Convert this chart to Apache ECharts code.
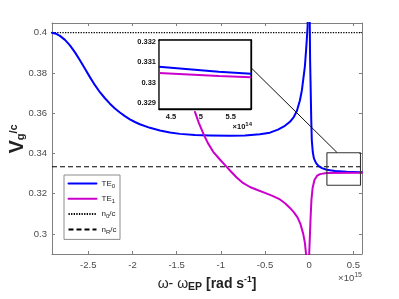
<!DOCTYPE html>
<html><head><meta charset="utf-8">
<script src="https://cdn.jsdelivr.net/npm/echarts@6/dist/echarts.min.js"></script>
<style>html,body{margin:0;padding:0;background:#fff}#c{width:399px;height:299px}</style>
</head><body><div id="c"></div>
<script>
// ---- data (x in units of 1e15 rad/s for the main plot, 1e14 for the inset) ----
const te0Left = [[-2.911,0.4000],[-2.866,0.3995],[-2.820,0.3984],[-2.763,0.3964],[-2.707,0.3937],[-2.650,0.3902],
  [-2.594,0.3863],[-2.537,0.3821],[-2.481,0.3779],[-2.424,0.3739],[-2.368,0.3704],[-2.311,0.3674],[-2.255,0.3647],
  [-2.198,0.3623],[-2.142,0.3603],[-2.085,0.3585],[-2.029,0.3569],[-1.972,0.3556],[-1.916,0.3545],[-1.802,0.3527],
  [-1.689,0.3514],[-1.576,0.3504],[-1.463,0.3497],[-1.293,0.3491],[-1.123,0.3489],[-0.897,0.3488],[-0.727,0.3489],
  [-0.558,0.3495],[-0.445,0.3503],[-0.354,0.3518],[-0.275,0.3537],[-0.218,0.3557],[-0.173,0.3582],[-0.139,0.3612],
  [-0.105,0.3664],[-0.083,0.3714],[-0.066,0.3773],[-0.049,0.3833],[-0.035,0.3917],[-0.026,0.3977],[-0.018,0.4031],
  [-0.012,0.43]];
const te0Right = [[0.0,0.43],[0.010,0.3863],[0.016,0.3729],[0.023,0.3566],[0.029,0.3466],[0.040,0.3407],[0.053,0.3375],
  [0.076,0.3353],[0.104,0.3338],[0.144,0.3327],[0.197,0.3319],[0.291,0.3313],[0.423,0.3309],[0.573,0.3306],[0.597,0.3306]];
const te1Left = [[-1.293,0.3606],[-1.248,0.3550],[-1.199,0.3499],[-1.146,0.3451],[-1.086,0.3408],[-1.016,0.3372],
  [-0.942,0.3337],[-0.886,0.3310],[-0.821,0.3280],[-0.750,0.3253],[-0.671,0.3233],[-0.586,0.3218],[-0.501,0.3204],
  [-0.416,0.3189],[-0.331,0.3171],[-0.274,0.3152],[-0.218,0.3129],[-0.173,0.3107],[-0.133,0.3082],[-0.100,0.3050],
  [-0.068,0.3000],[-0.049,0.2955],[-0.037,0.2904],[-0.030,0.27]];
const te1Right = [[-0.004,0.27],[0.0,0.2904],[0.008,0.2995],[0.016,0.3086],[0.025,0.3169],[0.038,0.3228],[0.059,0.3268],
  [0.087,0.3288],[0.121,0.3297],[0.197,0.3303],[0.573,0.3304],[0.597,0.3304]];
const n0c = 0.4;
const nRc = 1/3;
const insetTe0 = [[4.3,0.33077],[4.8,0.33065],[5.3,0.33053],[5.84,0.33043]];
const insetTe1 = [[4.3,0.33046],[4.8,0.33039],[5.3,0.33032],[5.84,0.33025]];
const xTicks = [-2.5,-2,-1.5,-1,-0.5,0,0.5];
const yTicks = [0.3,0.32,0.34,0.36,0.38,0.4];
const insetXTicks = [4.5,5,5.5];
const insetYTicks = [0.329,0.33,0.331,0.332];
const zoomBox = [[0.2,0.3242],[0.58,0.3242],[0.58,0.3403],[0.2,0.3403],[0.2,0.3242]];
const connector = [[-0.652,0.3823],[0.313,0.3405]];
const xRange = [-2.91, 0.597];
const yRange = [0.29, 0.4048];
const insetXRange = [4.3, 5.84];
const insetYRange = [0.3287, 0.33208];

const FF = '"Liberation Sans", Arial, Helvetica, sans-serif';
const AX = '#7f7f7f';
const LBL = '#4a4a4a';
const BLUE = '#0000ff';
const MAG = '#cc00cc';
const fmt = v => String(+(+v).toFixed(4));

function mainX(pos, show) {
  return {type:'value', gridIndex:0, position:pos, min:xRange[0], max:xRange[1],
    axisLine:{show:true, onZero:false, lineStyle:{color:AX, width:1}},
    axisTick:{show:true, inside:true, length:3, customValues:xTicks, lineStyle:{color:AX}},
    axisLabel:{show:show, customValues:xTicks, color:LBL, fontSize:9.5, fontFamily:FF, margin:6, formatter:fmt},
    splitLine:{show:false}};
}
function mainY(pos, show) {
  return {type:'value', gridIndex:0, position:pos, min:yRange[0], max:yRange[1],
    axisLine:{show:true, onZero:false, lineStyle:{color:AX, width:1}},
    axisTick:{show:true, inside:true, length:3, customValues:yTicks, lineStyle:{color:AX}},
    axisLabel:{show:show, customValues:yTicks, color:LBL, fontSize:9.5, fontFamily:FF, margin:5, formatter:fmt},
    splitLine:{show:false}};
}
function insX(pos, show) {
  return {type:'value', gridIndex:1, position:pos, min:insetXRange[0], max:insetXRange[1],
    axisLine:{show:true, onZero:false, lineStyle:{color:'#000', width:1.3}},
    axisTick:{show:true, inside:true, length:2.5, customValues:insetXTicks, lineStyle:{color:'#000'}},
    axisLabel:{show:show, customValues:insetXTicks, color:'#111', fontSize:7.5, fontWeight:'bold', fontFamily:FF, margin:3.5, formatter:fmt},
    splitLine:{show:false}};
}
function insY(pos, show) {
  return {type:'value', gridIndex:1, position:pos, min:insetYRange[0], max:insetYRange[1],
    axisLine:{show:true, onZero:false, lineStyle:{color:'#000', width:1.3}},
    axisTick:{show:true, inside:true, length:2.5, customValues:insetYTicks, lineStyle:{color:'#000'}},
    axisLabel:{show:show, customValues:insetYTicks, color:'#111', fontSize:7.5, fontWeight:'bold', fontFamily:FF, margin:3, formatter:fmt},
    splitLine:{show:false}};
}
function curve(name, data, color) {
  return {name:name, type:'line', xAxisIndex:0, yAxisIndex:0, symbol:'none', showSymbol:false, smooth:false,
    data:data, lineStyle:{color:color, width:2, join:'round', cap:'round'}, itemStyle:{color:color, opacity:0}, z:3};
}

const legendNames = {TE0:'{t|TE}{s|0}', TE1:'{t|TE}{s|1}', n0:'{t|n}{s|0}{t|/c}', nR:'{t|n}{s|R}{t|/c}'};

const chart = echarts.init(document.getElementById('c'), null, {renderer:'canvas'});
chart.setOption({
  animation:false,
  backgroundColor:'#fff',
  grid:[
    {left:52, top:23, width:310, height:231, show:false},
    {left:159, top:40, width:92, height:69, show:true, backgroundColor:'#fff', borderColor:'#000', borderWidth:1.3, z:5}
  ],
  xAxis:[mainX('bottom', true), mainX('top', false), insX('bottom', true), insX('top', false)],
  yAxis:[mainY('left', true), mainY('right', false), insY('left', true), insY('right', false)],
  legend:{
    data:['TE0','TE1','n0','nR'], orient:'vertical', left:64, top:175,
    padding:[4.5,3.5,4.5,3.5], itemGap:5.8, itemWidth:28, itemHeight:2,
    backgroundColor:'#fff', borderColor:'#8c8c8c', borderWidth:1,
    selectedMode:false,
    itemStyle:{opacity:0, borderWidth:0},
    formatter:n => legendNames[n],
    textStyle:{fontFamily:FF, rich:{
      t:{fontSize:8, color:'#222', fontFamily:FF},
      s:{fontSize:6, color:'#222', fontFamily:FF, padding:[5,0,0,0]}
    }}
  },
  series:[
    {name:'n0', type:'line', xAxisIndex:0, yAxisIndex:0, showSymbol:false, symbol:'none',
      data:[[xRange[0],n0c],[xRange[1],n0c]], lineStyle:{color:'#000', width:1.4, type:[1.3,1.3]},
      itemStyle:{color:'#000', opacity:0}, z:2},
    {name:'nR', type:'line', xAxisIndex:0, yAxisIndex:0, showSymbol:false, symbol:'none',
      data:[[xRange[0],nRc],[xRange[1],nRc]], lineStyle:{color:'#000', width:1.1, type:[5,3]},
      itemStyle:{color:'#000', opacity:0}, z:2},
    curve('TE0', te0Left, BLUE),
    curve('TE0', te0Right, BLUE),
    curve('TE1', te1Left, MAG),
    curve('TE1', te1Right, MAG),
    {name:'zoombox', type:'line', xAxisIndex:0, yAxisIndex:0, symbol:'none', data:zoomBox,
      lineStyle:{color:'#333', width:1.1}, z:4, clip:false},
    {name:'connector', type:'line', xAxisIndex:0, yAxisIndex:0, symbol:'none', data:connector,
      lineStyle:{color:'#111', width:1}, z:4},
    {name:'TE0 inset', type:'line', xAxisIndex:2, yAxisIndex:2, symbol:'none', data:insetTe0,
      lineStyle:{color:BLUE, width:2}, z:6},
    {name:'TE1 inset', type:'line', xAxisIndex:2, yAxisIndex:2, symbol:'none', data:insetTe1,
      lineStyle:{color:MAG, width:2}, z:6}
  ],
  graphic:[
    {type:'text', x:17, y:139, rotation:Math.PI/2, style:{
      text:'{v|V}{g|g}{c|/c}', align:'center', verticalAlign:'middle',
      rich:{
        v:{fontSize:20, fontWeight:'bold', fontFamily:FF, fill:'#222'},
        g:{fontSize:11, fontWeight:'bold', fontFamily:FF, fill:'#222', padding:[8,0,0,0]},
        c:{fontSize:11, fontWeight:'bold', fontFamily:FF, fill:'#222', padding:[0,0,6,0]}
      }}},
    {type:'text', x:207, y:284, style:{
      text:'{w|ω- ω}{sub|EP}{b| [rad s}{sup|-1}{b|]}', align:'center', verticalAlign:'middle',
      rich:{
        w:{fontSize:14, fontFamily:FF, fill:'#222'},
        b:{fontSize:14, fontWeight:'bold', fontFamily:FF, fill:'#222'},
        sub:{fontSize:10.5, fontWeight:'bold', fontFamily:FF, fill:'#222', padding:[7,0,0,0]},
        sup:{fontSize:8.5, fontWeight:'bold', fontFamily:FF, fill:'#222', padding:[0,0,8,0]}
      }}},
    {type:'text', x:362, y:278, style:{
      text:'{a|×10}{e|15}', align:'right', verticalAlign:'middle',
      rich:{
        a:{fontSize:9.5, fontFamily:FF, fill:LBL},
        e:{fontSize:7, fontFamily:FF, fill:LBL, padding:[0,0,6,0]}
      }}},
    {type:'text', x:252, y:127, z:10, style:{
      text:'{a|×10}{e|14}', align:'right', verticalAlign:'middle',
      rich:{
        a:{fontSize:7.5, fontWeight:'bold', fontFamily:FF, fill:'#111'},
        e:{fontSize:6, fontWeight:'bold', fontFamily:FF, fill:'#111', padding:[0,0,5,0]}
      }}}
  ]
});
</script></body></html>
